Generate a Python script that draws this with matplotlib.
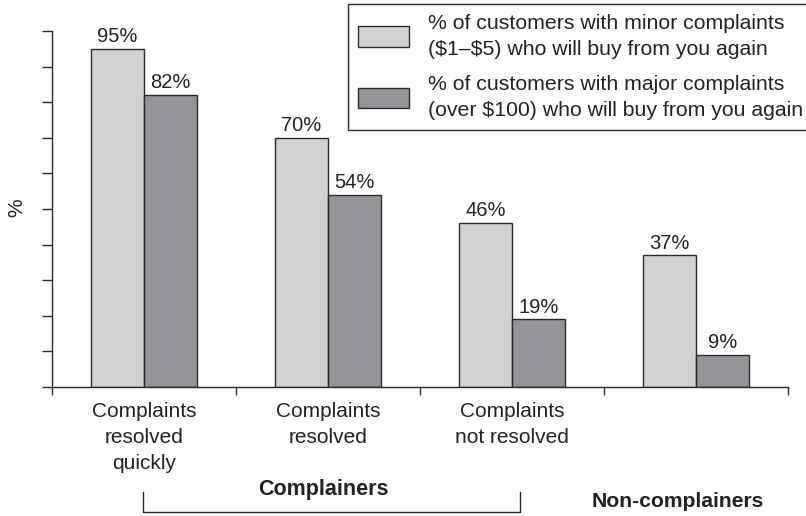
import matplotlib
matplotlib.use("Agg")
import matplotlib.pyplot as plt
import matplotlib.transforms as mtransforms

plt.rcParams['font.family'] = ['Liberation Sans', 'DejaVu Sans']

categories = ["Complaints\nresolved\nquickly", "Complaints\nresolved", "Complaints\nnot resolved", ""]
minor_pct = [95, 70, 46, 37]
major_pct = [82, 54, 19, 9]
legend_labels = ["% of customers with minor complaints\n(\\$1\u2013\\$5) who will buy from you again",
                 "% of customers with major complaints\n(over \\$100) who will buy from you again"]

light = "#d1d2d4"
dark = "#939598"
edge = "#2a2a2a"

fig = plt.figure(figsize=(8.06, 5.16), dpi=100)
ax = fig.add_axes([52/806, 129/516, 736/806, 356/516])

x = list(range(len(categories)))
w = 0.288
b1 = ax.bar([i - w/2 for i in x], minor_pct, w, color=light, edgecolor=edge, linewidth=1)
b2 = ax.bar([i + w/2 for i in x], major_pct, w, color=dark, edgecolor=edge, linewidth=1)
ax.bar_label(b1, fmt="%d%%", padding=2, fontsize=14.5, color="#222222")
ax.bar_label(b2, fmt="%d%%", padding=2, fontsize=14.5, color="#222222")

ax.set_xlim(-0.5, 3.5)
ax.set_ylim(0, 100)
ax.spines['top'].set_visible(False)
ax.spines['right'].set_visible(False)
for s in ['left', 'bottom']:
    ax.spines[s].set_color(edge)
    ax.spines[s].set_linewidth(1)

ax.set_yticks(range(0, 101, 10))
ax.set_yticklabels([])
ax.tick_params(axis='y', length=7.2, width=1, color=edge)

ax.set_xticks([-0.5, 0.5, 1.5, 2.5, 3.5])
ax.set_xticklabels([])
ax.tick_params(axis='x', which='major', length=6, width=1, color=edge)
ax.set_xticks(x, minor=True)
ax.set_xticklabels(categories, minor=True, fontsize=15, color="#222222", linespacing=1.45)
ax.tick_params(axis='x', which='minor', length=0, pad=11)

fig.text(17/806, 1 - 208/516, "%", rotation=90, fontsize=15, ha='center', va='center', color="#222222")

# group labels and bracket below the axis
tr = mtransforms.blended_transform_factory(ax.transData, ax.transAxes)
ax.plot([-0.005, -0.005, 2.043, 2.043], [-0.295, -0.351, -0.351, -0.295],
        transform=tr, clip_on=False, color=edge, lw=1)
ax.text(0.973, -0.289, "Complainers", transform=tr, ha='center', va='center',
        fontsize=15.5, fontweight='bold', color="#222222")
ax.text(2.902, -0.323, "Non-complainers", transform=tr, ha='center', va='center',
        fontsize=15.2, fontweight='bold', color="#222222")

leg = fig.legend([b1, b2], legend_labels, loc='upper left',
                 bbox_to_anchor=(348/806, 1 - 4/516), borderaxespad=0,
                 fontsize=15.3, handlelength=2.4, handleheight=1.1, handletextpad=0.9,
                 labelspacing=0.75, borderpad=0.45, fancybox=False, framealpha=1)
leg.get_frame().set_edgecolor(edge)
leg.get_frame().set_linewidth(1)
for t in leg.get_texts():
    t.set_color("#222222")
    t.set_linespacing(1.5)

fig.savefig("out.png", dpi=100)
